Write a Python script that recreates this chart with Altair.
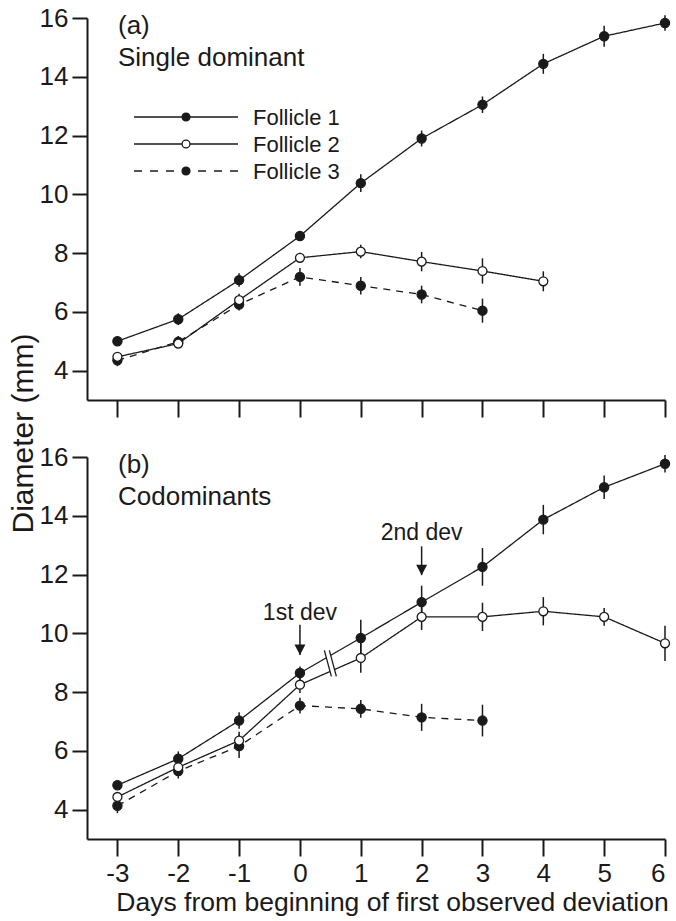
import altair as alt
import pandas as pd

# ---- data: mean follicle diameter (mm) and SEM by day ----
DAYS = [-3, -2, -1, 0, 1, 2, 3, 4, 5, 6]
SERIES = ["Follicle 1", "Follicle 2", "Follicle 3"]

# (a) Single dominant
a_f1 = [5.0, 5.75, 7.08, 8.58, 10.38, 11.9, 13.05, 14.44, 15.38, 15.83]
a_f1_se = [0.1, 0.2, 0.23, 0.1, 0.3, 0.27, 0.28, 0.34, 0.36, 0.26]
a_f2 = [4.47, 4.92, 6.4, 7.84, 8.05, 7.71, 7.39, 7.04]
a_f2_se = [0.12, 0.15, 0.22, 0.17, 0.23, 0.33, 0.43, 0.34]
a_f3 = [4.35, 4.98, 6.25, 7.19, 6.89, 6.59, 6.04]
a_f3_se = [0.2, 0.2, 0.2, 0.3, 0.3, 0.3, 0.41]

# (b) Codominants
b_f1 = [4.83, 5.73, 7.03, 8.65, 9.84, 11.06, 12.26, 13.87, 14.97, 15.77]
b_f1_se = [0.13, 0.25, 0.28, 0.22, 0.62, 0.56, 0.64, 0.5, 0.4, 0.3]
b_f2 = [4.43, 5.44, 6.35, 8.25, 9.16, 10.56, 10.56, 10.75, 10.56, 9.66]
b_f2_se = [0.15, 0.2, 0.3, 0.28, 0.5, 0.45, 0.48, 0.48, 0.3, 0.6]
b_f3 = [4.13, 5.31, 6.16, 7.54, 7.43, 7.14, 7.03]
b_f3_se = [0.25, 0.25, 0.4, 0.27, 0.3, 0.46, 0.54]

# deviation annotations in panel (b): day, label, label baseline, arrow top, arrow tip (mm)
NOTE_DAY = [0, 2]
NOTE_TEXT = ["1st dev", "2nd dev"]
NOTE_LABEL_Y = [10.46, 13.19]
NOTE_TOP = [10.29, 12.96]
NOTE_TIP = [9.26, 11.98]

FONT = "Liberation Sans"
INK = "#1a1a1a"
DASH = [7, 6]


def long_table(f1, f1e, f2, f2e, f3, f3e):
    rows = []
    for name, vals, errs in zip(SERIES, (f1, f2, f3), (f1e, f2e, f3e)):
        for d, v, e in zip(DAYS, vals, errs):
            rows.append({"day": d, "diam": v, "lo": v - e, "hi": v + e, "series": name})
    return pd.DataFrame(rows)


ARROW_HEAD = "M-1,-1.9L1,-1.9L0,0Z"
BREAK_SLASHES = "M-0.75,-1.625L0.125,1.625M-0.125,-1.625L0.75,1.625"
BREAK_GAP = "M-0.75,-1.625L0.125,1.625L0.75,1.625L-0.125,-1.625Z"

xs = alt.Scale(domain=[-3.5, 6], nice=False, zero=False)
ys = alt.Scale(domain=[3, 16], nice=False, zero=False)
Y_TICKS = [4, 6, 8, 10, 12, 14, 16]

W, H = 578, 382


def panel(df, tag, caption, bottom):
    if bottom:
        x_axis = alt.Axis(
            values=DAYS, tickSize=17, labelExpr="'' + datum.value",
            title="Days from beginning of first observed deviation",
            titleFontSize=26.5, titleX=305, titlePadding=3,
        )
        y_axis = alt.Axis(values=Y_TICKS, tickSize=15, title=None)
    else:
        x_axis = alt.Axis(values=DAYS, labels=False, tickSize=17, title=None)
        y_axis = alt.Axis(
            values=Y_TICKS, tickSize=15, title="Diameter (mm)", titleFontSize=30,
            titleX=-55, titleY=415, titleAngle=270, titleAlign="center",
            titleBaseline="alphabetic",
        )
    X = alt.X("day:Q", scale=xs, axis=x_axis)
    Y = alt.Y("diam:Q", scale=ys)

    bars = alt.Chart(df).mark_rule(color=INK, strokeWidth=1.5).encode(
        x=X, y=alt.Y("lo:Q", scale=ys, axis=y_axis), y2="hi:Q"
    )
    lines = alt.Chart(df).mark_line(strokeWidth=1.3, color=INK).encode(
        x=X, y=Y, detail="series:N",
        strokeDash=alt.StrokeDash(
            "series:N", scale=alt.Scale(domain=SERIES, range=[[1, 0], [1, 0], DASH]), legend=None
        ),
    )
    solid_pts = alt.Chart(df).transform_filter(
        "datum.series !== 'Follicle 2'"
    ).mark_point(
        filled=True, size=85, shape="circle", fill=INK, stroke=INK, strokeWidth=1.2, opacity=1
    ).encode(x=X, y=Y)
    open_pts = alt.Chart(df).transform_filter(
        "datum.series === 'Follicle 2'"
    ).mark_point(
        filled=True, size=80, shape="circle", fill="white", stroke=INK, strokeWidth=1.3, opacity=1
    ).encode(x=X, y=Y)

    tag_t = alt.Chart(pd.DataFrame({"t": [tag]})).mark_text(
        align="left", baseline="alphabetic", fontSize=26, font=FONT, color=INK
    ).encode(x=alt.value(31), y=alt.value(16), text="t:N")
    cap_t = alt.Chart(pd.DataFrame({"t": [caption]})).mark_text(
        align="left", baseline="alphabetic", fontSize=26, font=FONT, color=INK
    ).encode(x=alt.value(31), y=alt.value(48), text="t:N")

    return [bars, lines, solid_pts, open_pts, tag_t, cap_t]


def key_rows():
    """Hand-drawn key: a short line with the series marker and its name."""
    out = []
    for i, name in enumerate(SERIES):
        row_y = 99 + 27 * i
        kdf = pd.DataFrame({"series": [name]})
        out.append(
            alt.Chart(kdf).mark_rule(
                color=INK, strokeWidth=1.3, strokeDash=[8, 8] if i == 2 else [1, 0]
            ).encode(x=alt.value(47), x2=alt.value(151), y=alt.value(row_y))
        )
        out.append(
            alt.Chart(kdf).mark_point(
                filled=True, size=62, shape="circle", opacity=1,
                fill="white" if i == 1 else INK, stroke=INK, strokeWidth=1.3,
            ).encode(x=alt.value(99), y=alt.value(row_y))
        )
        out.append(
            alt.Chart(kdf).mark_text(
                align="left", baseline="middle", fontSize=22, font=FONT, color=INK
            ).encode(x=alt.value(166), y=alt.value(row_y + 1), text="series:N")
        )
    return out


top_df = long_table(a_f1, a_f1_se, a_f2, a_f2_se, a_f3, a_f3_se)
bot_df = long_table(b_f1, b_f1_se, b_f2, b_f2_se, b_f3, b_f3_se)

top = alt.layer(
    *panel(top_df, "(a)", "Single dominant", bottom=False), *key_rows()
).properties(width=W, height=H)

# panel (b) extras: deviation arrows and the break mark between day 0 and day 1
notes = pd.DataFrame({
    "day": NOTE_DAY, "label": NOTE_TEXT, "ly": NOTE_LABEL_Y, "top": NOTE_TOP, "tip": NOTE_TIP,
})
note_text = alt.Chart(notes).mark_text(
    align="center", baseline="alphabetic", fontSize=23, font=FONT, color=INK
).encode(x=alt.X("day:Q", scale=xs), y=alt.Y("ly:Q", scale=ys), text="label:N")
note_stem = alt.Chart(notes).mark_rule(color=INK, strokeWidth=1.5).encode(
    x=alt.X("day:Q", scale=xs), y=alt.Y("top:Q", scale=ys), y2="tip:Q"
)
note_head = alt.Chart(notes).mark_point(
    shape=ARROW_HEAD, size=121, filled=True, color=INK, opacity=1
).encode(x=alt.X("day:Q", scale=xs), y=alt.Y("tip:Q", scale=ys))

break_y = (b_f1[3] + b_f1[4] + b_f2[3] + b_f2[4]) / 4
brk = pd.DataFrame({"day": [0.5], "diam": [break_y]})
break_gap = alt.Chart(brk).mark_point(
    shape=BREAK_GAP, size=256, filled=True, color="white", opacity=1
).encode(x=alt.X("day:Q", scale=xs), y=alt.Y("diam:Q", scale=ys))
break_marks = alt.Chart(brk).mark_point(
    shape=BREAK_SLASHES, size=256, filled=False, color=INK, strokeWidth=1.3, opacity=1
).encode(x=alt.X("day:Q", scale=xs), y=alt.Y("diam:Q", scale=ys))

b_layers = panel(bot_df, "(b)", "Codominants", bottom=True)
bottom = alt.layer(
    b_layers[0], b_layers[1], break_gap, break_marks, b_layers[2], b_layers[3],
    note_stem, note_head, note_text, b_layers[4], b_layers[5],
).properties(width=W, height=H)

chart = (
    alt.vconcat(top, bottom, spacing=57, bounds="flush")
    .properties(padding={"left": 8, "top": 5, "right": 2, "bottom": 0})
    .resolve_scale(strokeDash="independent")
    .configure_view(stroke=None)
    .configure_axis(
        domainColor=INK, domainWidth=2, tickColor=INK, tickWidth=2, grid=False,
        labelFont=FONT, labelFontSize=26, labelColor=INK, labelPadding=4,
        titleFont=FONT, titleFontSize=26, titleColor=INK, titleFontWeight="normal",
        titlePadding=2,
    )
)

chart.save("out.html", embed_options={"renderer": "svg", "actions": False})
